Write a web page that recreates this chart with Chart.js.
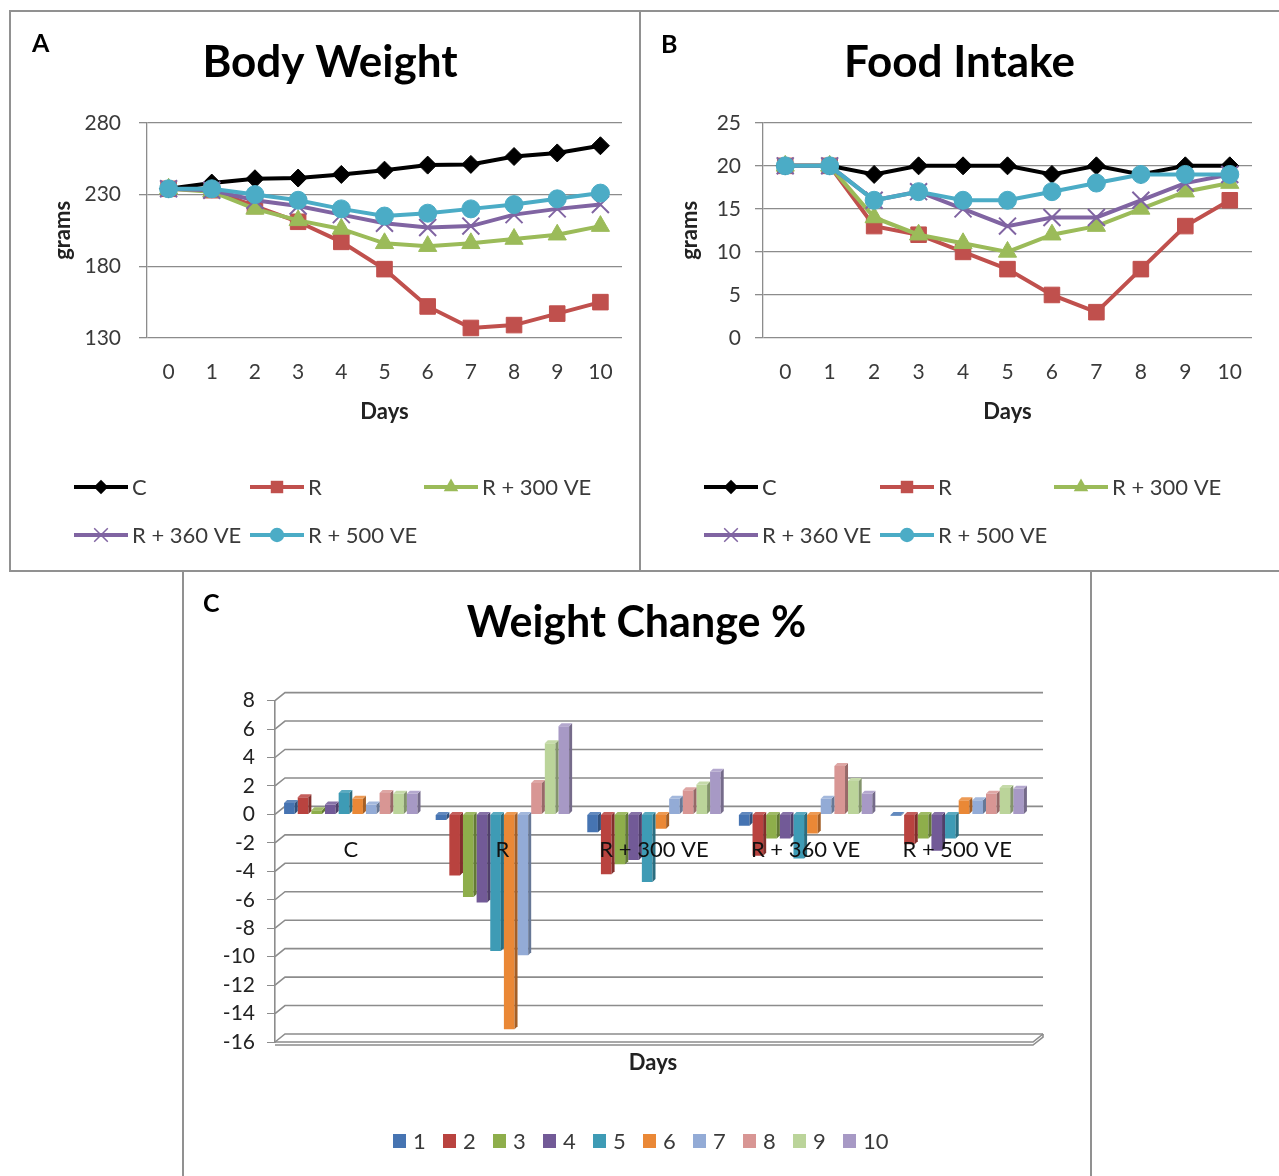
<!DOCTYPE html>
<html><head><meta charset="utf-8">
<script src="https://cdn.jsdelivr.net/npm/chart.js@4.4.1/dist/chart.umd.min.js"></script>
<style>
html,body{margin:0;padding:0;background:#fff;width:1279px;height:1176px;overflow:hidden;position:relative;}
.panel{position:absolute;border:2px solid #919191;box-sizing:border-box;}
canvas{position:absolute;left:0;top:0;}
</style></head><body>
<div class="panel" style="left:9px;top:10px;width:632px;height:562px"></div>
<div class="panel" style="left:639px;top:10px;width:642px;height:562px"></div>
<div class="panel" style="left:182px;top:570px;width:910px;height:640px;"></div>
<canvas id="cA" width="1279" height="1176" style="width:1279px;height:1176px"></canvas>
<canvas id="cB" width="1279" height="1176" style="width:1279px;height:1176px"></canvas>
<canvas id="cC" width="1279" height="1176" style="width:1279px;height:1176px"></canvas>
<script>
// ---------- data ----------
const dayLabels = ['0','1','2','3','4','5','6','7','8','9','10'];
const seriesNames = ['C','R','R + 300 VE','R + 360 VE','R + 500 VE'];

const bodyWeightC    = [234, 238, 241, 241.5, 244, 247, 250.5, 251, 256.5, 259, 264];
const bodyWeightR    = [234, 233, 222, 211, 197, 178, 152, 137, 139, 147, 155];
const bodyWeightR300 = [234, 232, 220, 212, 206, 196, 194, 196, 199, 202, 208];
const bodyWeightR360 = [234, 233, 226, 222, 216, 210, 207, 208, 216, 220, 223];
const bodyWeightR500 = [234, 234, 230, 226, 220, 215, 217, 220, 223, 227, 231];

const foodC    = [20, 20, 19, 20, 20, 20, 19, 20, 19, 20, 20];
const foodR    = [20, 20, 13, 12, 10, 8, 5, 3, 8, 13, 16];
const foodR300 = [20, 20, 14, 12, 11, 10, 12, 13, 15, 17, 18];
const foodR360 = [20, 20, 16, 17, 15, 13, 14, 14, 16, 18, 19];
const foodR500 = [20, 20, 16, 17, 16, 16, 17, 18, 19, 19, 19];

const groupLabels = ['C','R','R + 300 VE','R + 360 VE','R + 500 VE'];
const changeDays  = ['1','2','3','4','5','6','7','8','9','10'];
const changeC    = [0.8, 1.2, 0.3, 0.7, 1.5, 1.1, 0.7, 1.5, 1.45, 1.45];
const changeR    = [-0.4, -4.3, -5.8, -6.2, -9.6, -15.1, -9.9, 2.2, 5.0, 6.2];
const changeR300 = [-1.25, -4.2, -3.5, -3.2, -4.75, -1.0, 1.1, 1.7, 2.1, 3.0];
const changeR360 = [-0.8, -2.9, -1.7, -1.7, -3.1, -1.35, 1.1, 3.4, 2.35, 1.45];
const changeR500 = [-0.1, -2.1, -1.7, -2.55, -1.7, 1.0, 1.0, 1.45, 1.85, 1.8];

// ---------- styles ----------
const lineColors = ['#000000','#C0504D','#9BBB59','#8064A2','#4BACC6'];
const lineStyles = ['rectRot','rect','triangle','crossRot','circle'];
const lineRadii  = [9, 11, 10.5, 12, 9];
const barColors = ['#4674B2','#B9433F','#8EAE4B','#725A97','#3E9BB5','#EA8836','#93ABD6','#D89694','#BBD49A','#A799C5'];
const gridCol = '#8c8c8c';
const textCol = '#3a3a3a';

Chart.defaults.font.family = 'Lato, "Open Sans", sans-serif';

function marker(ctx, style, r, x, y, color){
  ctx.save(); ctx.fillStyle=color; ctx.strokeStyle=color; ctx.lineWidth = style==='crossRot'?1.5:1; ctx.beginPath();
  switch(style){
    case 'rectRot': ctx.moveTo(x-r,y);ctx.lineTo(x,y-r);ctx.lineTo(x+r,y);ctx.lineTo(x,y+r);ctx.closePath();ctx.fill();break;
    case 'rect': {const s=r*Math.SQRT1_2; ctx.rect(x-s,y-s,2*s,2*s); ctx.fill(); break;}
    case 'triangle': ctx.moveTo(x,y-r); ctx.lineTo(x+r*0.866,y+r*0.5); ctx.lineTo(x-r*0.866,y+r*0.5); ctx.closePath(); ctx.fill(); break;
    case 'crossRot': {const s=r*Math.SQRT1_2; ctx.moveTo(x-s,y-s);ctx.lineTo(x+s,y+s);ctx.moveTo(x-s,y+s);ctx.lineTo(x+s,y-s); ctx.stroke(); break;}
    default: ctx.arc(x,y,r,0,Math.PI*2); ctx.fill();
  }
  ctx.restore();
}

function lineDatasets(arrays){
  return arrays.map((data,i)=>({
    label: seriesNames[i], data,
    borderColor: lineColors[i], backgroundColor: lineColors[i],
    borderWidth: 4, tension: 0,
    pointStyle: lineStyles[i], pointRadius: lineRadii[i], pointHoverRadius: lineRadii[i],
    pointBorderWidth: lineStyles[i]==='crossRot'?2:1,
    pointBorderColor: lineColors[i], pointBackgroundColor: lineColors[i],
    order: 5-i
  }));
}

function lineDecor(letter, lx, ly, ox){
  return {id:'decor', afterDraw(chart){
    const ctx = chart.ctx; ctx.save();
    ctx.fillStyle='#000'; ctx.font='bold 25px Lato'; ctx.textBaseline='alphabetic'; ctx.textAlign='left';
    ctx.fillText(letter, lx, ly);
    const pos = [[ox+64,487],[ox+240,487],[ox+414,487],[ox+64,535],[ox+240,535]];
    chart.data.datasets.forEach((ds,i)=>{
      const [x,y]=pos[i];
      ctx.strokeStyle=lineColors[i]; ctx.lineWidth=4; ctx.beginPath(); ctx.moveTo(x,y); ctx.lineTo(x+54,y); ctx.stroke();
      marker(ctx, lineStyles[i], lineRadii[i]*0.8, x+27, y, lineColors[i]);
      ctx.fillStyle=textCol; ctx.font='22px Lato'; ctx.textBaseline='middle'; ctx.textAlign='left';
      ctx.fillText(ds.label, x+58, y+1);
    });
    ctx.restore();
  }};
}

function lineOptions(title, yMin, yMax, step, padL, padR, yWidth, rWidth, yTitlePad, yTickPad){
  return {
    responsive:false, animation:false,
    layout:{padding:{left:padL, top:10, right:padR, bottom:738}},
    plugins:{legend:{display:false}, tooltip:{enabled:false},
      title:{display:true, text:title, font:{size:44, weight:'bold'}, color:'#000', padding:{top:26, bottom:34}}},
    scales:{
      x:{type:'category', offset:true, grid:{display:false, drawTicks:false}, border:{display:false},
         ticks:{font:{size:21}, color:textCol, padding:22},
         title:{display:true, text:'Days', font:{size:22, weight:'bold'}, color:'#222', padding:{top:0, bottom:13}},
         afterFit:s=>{s.height=100;}},
      y:{min:yMin, max:yMax, ticks:{stepSize:step, font:{size:21}, color:textCol, padding:yTickPad},
         grid:{color:gridCol, tickLength:8, lineWidth:1.3}, border:{display:true, color:gridCol, width:1.3},
         title:{display:true, text:'grams', font:{size:22, weight:'bold'}, color:'#222', padding:{top:yTitlePad, bottom:0}},
         afterFit:s=>{s.width=yWidth;}},
      yR:{position:'right', display:true, ticks:{display:false}, grid:{display:false}, border:{display:false},
         afterFit:s=>{s.width=rWidth;}}
    }
  };
}

new Chart(document.getElementById('cA'), {
  type:'line',
  data:{labels:dayLabels, datasets:lineDatasets([bodyWeightC, bodyWeightR, bodyWeightR300, bodyWeightR360, bodyWeightR500])},
  options: lineOptions('Body Weight', 130, 280, 50, 10, 629, 137, 28, 40, 18),
  plugins:[lineDecor('A', 32, 52, 10)]
});

new Chart(document.getElementById('cB'), {
  type:'line',
  data:{labels:dayLabels, datasets:lineDatasets([foodC, foodR, foodR300, foodR360, foodR500])},
  options: lineOptions('Food Intake', 0, 25, 5, 640, 0, 123, 27, 37, 14),
  plugins:[lineDecor('B', 661, 53, 640)]
});

// ---------- panel C ----------
function shade(hex, f){
  const n=parseInt(hex.slice(1),16); let r=n>>16, g=(n>>8)&255, b=n&255;
  if(f<0){ r*=1+f; g*=1+f; b*=1+f; } else { r+= (255-r)*f; g+=(255-g)*f; b+=(255-b)*f; }
  return 'rgb('+Math.round(r)+','+Math.round(g)+','+Math.round(b)+')';
}
const groupArrays = [changeC, changeR, changeR300, changeR360, changeR500];
const barDatasets = changeDays.map((d,i)=>({
  label:d, data: groupArrays.map(g=>g[i]),
  backgroundColor: barColors[i], borderWidth:0
}));

const grid3d = {id:'grid3d', beforeDatasetsDraw(chart){
  const {ctx, chartArea:{left,right}} = chart; const ys = chart.scales.y; const dx=10, dy=8;
  ctx.save(); ctx.strokeStyle=gridCol; ctx.lineWidth=1.6;
  ys.ticks.forEach(t=>{ const y=ys.getPixelForValue(t.value);
    ctx.beginPath(); ctx.moveTo(left,y); ctx.lineTo(left+dx,y-dy); ctx.lineTo(right+dx,y-dy); ctx.stroke(); });
  const yb = ys.getPixelForValue(ys.min);
  ctx.beginPath(); ctx.moveTo(left,yb); ctx.lineTo(right,yb); ctx.lineTo(right+dx,yb-dy); ctx.stroke();
  ctx.beginPath(); ctx.moveTo(left,yb+3); ctx.lineTo(right,yb+3); ctx.lineTo(right+dx,yb-dy+3); ctx.lineTo(right+dx,yb-dy); ctx.stroke();
  ctx.restore();
}};
const bar3d = {id:'bar3d', afterDatasetsDraw(chart){
  const ctx=chart.ctx; const d=3;
  ctx.save();
  chart.data.datasets.forEach((ds,i)=>{
    const meta=chart.getDatasetMeta(i); const col=ds.backgroundColor;
    meta.data.forEach(el=>{
      const p=el.getProps(['x','y','base','width'],true);
      const l=p.x-p.width/2, r=p.x+p.width/2, top=Math.min(p.y,p.base), bot=Math.max(p.y,p.base);
      ctx.fillStyle=shade(col,-0.3); ctx.beginPath(); ctx.moveTo(r,top); ctx.lineTo(r+d,top-d); ctx.lineTo(r+d,bot-d); ctx.lineTo(r,bot); ctx.closePath(); ctx.fill();
      ctx.fillStyle=shade(col,0.15); ctx.beginPath(); ctx.moveTo(l,top); ctx.lineTo(l+d,top-d); ctx.lineTo(r+d,top-d); ctx.lineTo(r,top); ctx.closePath(); ctx.fill();
    });
  });
  ctx.restore();
}};
const decorC = {id:'decorC', afterDraw(chart){
  const ctx=chart.ctx; ctx.save();
  ctx.fillStyle='#000'; ctx.font='bold 25px Lato'; ctx.textBaseline='alphabetic'; ctx.textAlign='left';
  ctx.fillText('C', 203, 612);
  ctx.fillStyle='#222'; ctx.font='bold 22px Lato'; ctx.textAlign='center'; ctx.textBaseline='middle';
  ctx.fillText('Days', 653, 1063);
  chart.data.datasets.forEach((ds,i)=>{
    const x=393+50*i, y=1141;
    ctx.fillStyle=ds.backgroundColor; ctx.fillRect(x, y-7, 13, 14);
    ctx.fillStyle=textCol; ctx.font='22px Lato'; ctx.textAlign='left'; ctx.textBaseline='middle';
    ctx.fillText(ds.label, x+20, y+1);
  });
  ctx.restore();
}};

new Chart(document.getElementById('cC'), {
  type:'bar',
  data:{labels:groupLabels, datasets:barDatasets},
  options:{
    responsive:false, animation:false,
    layout:{padding:{left:183, top:571, right:189, bottom:134}},
    datasets:{bar:{categoryPercentage:0.9, barPercentage:0.78}},
    plugins:{legend:{display:false}, tooltip:{enabled:false},
      title:{display:true, text:'Weight Change %', font:{size:43, weight:'bold'}, color:'#000', padding:{top:26, bottom:52}}},
    scales:{
      x:{position:{y:0}, grid:{display:false, drawTicks:false}, border:{display:false},
         ticks:{z:2, font:{size:22}, color:'#111', padding:22}},
      y:{min:-16, max:8, ticks:{stepSize:2, font:{size:21}, color:'#222', padding:12},
         grid:{drawOnChartArea:false, color:gridCol, tickLength:8}, border:{display:true, color:gridCol, width:1.6},
         afterFit:s=>{s.width=92;}},
      yR:{position:'right', display:true, ticks:{display:false}, grid:{display:false}, border:{display:false},
         afterFit:s=>{s.width=57;}}
    }
  },
  plugins:[grid3d, bar3d, decorC]
});
</script>
</body></html>
